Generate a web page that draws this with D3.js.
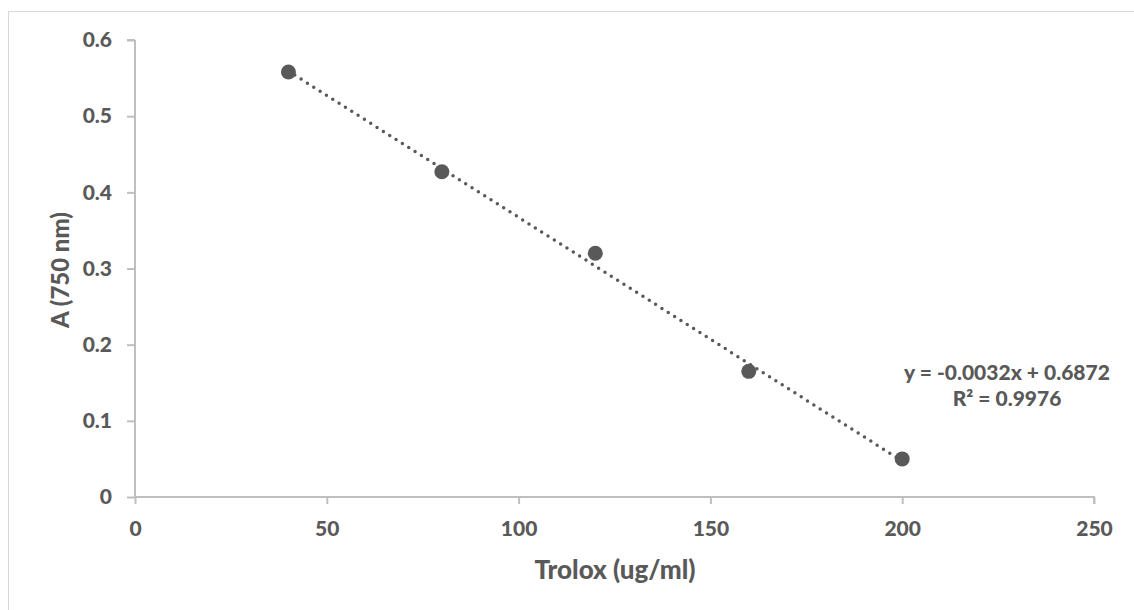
<!doctype html>
<html>
<head>
    <meta charset="UTF-8">
    <title>Trolox standard curve</title>
    <script src="https://cdn.jsdelivr.net/npm/d3@7"></script>
    <style>
        body { margin: 0; background: #fff; }
        text { font-family: Lato, "Open Sans", sans-serif; font-weight: 900; fill: #595959; }
    </style>
</head>
<body>

    <div id="chart"></div>

    <script>

        var width = 1134,
            height = 610;

        // data
        var trolox = [40, 80, 120, 160, 200];
        var absorb = [0.558, 0.427, 0.320, 0.165, 0.050];
        var xTicks = [0, 50, 100, 150, 200, 250];
        var yTicks = [0, 0.1, 0.2, 0.3, 0.4, 0.5, 0.6];
        var slope = -0.0032, intercept = 0.6872;
        var eqLines = ["y = -0.0032x + 0.6872", "R² = 0.9976"];

        var points = trolox.map(function (d, i) { return { x: d, y: absorb[i] }; });

        var svg = d3.select("#chart")
            .append("svg")
            .attr("width", width)
            .attr("height", height);

        // chart frame
        svg.append("rect")
            .attr("x", 8.5)
            .attr("y", 11.5)
            .attr("width", width + 20)
            .attr("height", height + 20)
            .style("fill", "none")
            .style("stroke", "#d9d9d9")
            .style("stroke-width", 1);

        var x = d3.scaleLinear().domain([0, 250]).range([135, 1094]);
        var y = d3.scaleLinear().domain([0, 0.6]).range([497, 40]);

        var xAxis = svg.append("g")
            .attr("transform", "translate(0," + y(0) + ")")
            .call(d3.axisBottom(x).tickValues(xTicks).tickSize(7).tickPadding(17).tickFormat(d3.format("d")));

        var yAxis = svg.append("g")
            .attr("transform", "translate(" + x(0) + ",0)")
            .call(d3.axisLeft(y).tickValues(yTicks).tickSize(8).tickPadding(15)
                .tickFormat(function (d) { return d === 0 ? "0" : d3.format(".1f")(d); }));

        svg.selectAll(".domain, .tick line")
            .style("stroke", "#bfbfbf")
            .style("stroke-width", 2);
        // no outer ticks on the domain
        xAxis.select(".domain").attr("d", "M" + x(0) + ",0H" + x(250) + "V7");
        yAxis.select(".domain").attr("d", "M0," + y(0.6) + "H-8M0," + y(0.6) + "V" + y(0));

        svg.selectAll(".tick text")
            .style("font-size", "21px")
            .style("font-family", "Lato, sans-serif")
            .style("fill", "#595959");

        // trendline
        svg.append("line")
            .attr("x1", x(40))
            .attr("y1", y(slope * 40 + intercept))
            .attr("x2", x(200))
            .attr("y2", y(slope * 200 + intercept))
            .style("stroke", "#595959")
            .style("stroke-width", 3.5)
            .style("stroke-linecap", "round")
            .style("stroke-dasharray", "0,7.5");

        svg.selectAll(".pt")
            .data(points)
            .enter()
            .append("circle")
            .attr("class", "pt")
            .attr("cx", function (d) { return x(d.x); })
            .attr("cy", function (d) { return y(d.y); })
            .attr("r", 7.5)
            .style("fill", "#595959");

        // equation label
        svg.selectAll(".eq")
            .data(eqLines)
            .enter()
            .append("text")
            .attr("class", "eq")
            .attr("x", 1007)
            .attr("y", function (d, i) { return 380 + i * 26; })
            .style("text-anchor", "middle")
            .style("font-size", "21px")
            .text(function (d) { return d; });

        // axis titles
        svg.append("text")
            .attr("x", 615)
            .attr("y", 579)
            .style("text-anchor", "middle")
            .style("font-size", "26px")
            .text("Trolox (ug/ml)");

        svg.append("text")
            .attr("transform", "translate(69,270) rotate(-90)")
            .style("text-anchor", "middle")
            .style("font-size", "24px")
            .text("A (750 nm)");

    </script>

</body>
</html>
